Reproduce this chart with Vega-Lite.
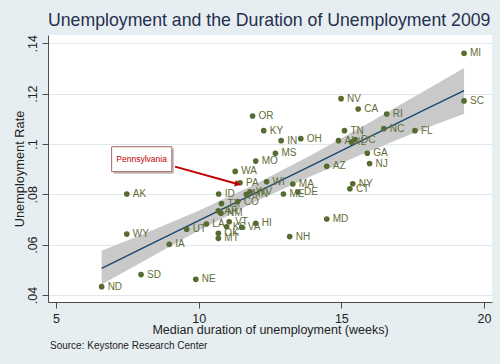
{
  "$schema": "https://vega.github.io/schema/vega-lite/v6.json",
  "width": 444,
  "height": 267,
  "autosize": "none",
  "padding": {"left": 48, "top": 35, "right": 8, "bottom": 62},
  "background": "#e7eef2",
  "title": {
    "text": "Unemployment and the Duration of Unemployment 2009",
    "anchor": "start",
    "frame": "group",
    "font": "Liberation Sans",
    "fontSize": 17.7,
    "fontWeight": "normal",
    "color": "#24304d",
    "offset": 5
  },
  "config": {
    "view": {"fill": "white", "stroke": null},
    "font": "Liberation Sans",
    "axisX": {
      "grid": false,
      "domainColor": "#4d4d4d",
      "tickColor": "#4d4d4d",
      "tickSize": 6,
      "labelPadding": 4.5,
      "labelFontSize": 12.5,
      "labelColor": "#222222",
      "titleFontSize": 12.5,
      "titleFontWeight": "normal",
      "titleColor": "#222222",
      "titlePadding": -2
    },
    "axisY": {
      "grid": true,
      "gridColor": "#dfe7ec",
      "domainColor": "#4d4d4d",
      "tickColor": "#4d4d4d",
      "tickSize": 6,
      "labelAngle": 270,
      "labelAlign": "center",
      "labelBaseline": "bottom",
      "labelPadding": 3,
      "labelFontSize": 12.5,
      "labelColor": "#222222",
      "titleFontSize": 12.8,
      "titleFontWeight": "normal",
      "titleColor": "#222222",
      "titlePadding": 0
    }
  },
  "datasets": {
    "states": [
      {"state": "MI", "dur": 19.30, "rate": 0.1360},
      {"state": "SC", "dur": 19.30, "rate": 0.1171},
      {"state": "NV", "dur": 14.99, "rate": 0.1180},
      {"state": "CA", "dur": 15.59, "rate": 0.1139},
      {"state": "RI", "dur": 16.59, "rate": 0.1119},
      {"state": "OR", "dur": 11.89, "rate": 0.1111},
      {"state": "KY", "dur": 12.28, "rate": 0.1053},
      {"state": "IN", "dur": 12.89, "rate": 0.1013},
      {"state": "OH", "dur": 13.58, "rate": 0.1021},
      {"state": "TN", "dur": 15.11, "rate": 0.1053},
      {"state": "AL", "dur": 14.90, "rate": 0.1013},
      {"state": "IL", "dur": 15.36, "rate": 0.1007},
      {"state": "DC", "dur": 15.48, "rate": 0.1017},
      {"state": "NC", "dur": 16.49, "rate": 0.1061},
      {"state": "FL", "dur": 17.58, "rate": 0.1053},
      {"state": "GA", "dur": 15.91, "rate": 0.0963},
      {"state": "NJ", "dur": 15.99, "rate": 0.0922},
      {"state": "MS", "dur": 12.69, "rate": 0.0963},
      {"state": "MO", "dur": 12.00, "rate": 0.0932},
      {"state": "WA", "dur": 11.28, "rate": 0.0891},
      {"state": "AZ", "dur": 14.49, "rate": 0.0911},
      {"state": "PA", "dur": 11.45, "rate": 0.0846},
      {"state": "WI", "dur": 12.38, "rate": 0.0850},
      {"state": "MA", "dur": 13.30, "rate": 0.0841},
      {"state": "DE", "dur": 13.48, "rate": 0.0809},
      {"state": "ME", "dur": 12.97, "rate": 0.0801},
      {"state": "NY", "dur": 15.40, "rate": 0.0842},
      {"state": "CT", "dur": 15.30, "rate": 0.0822},
      {"state": "ID", "dur": 10.70, "rate": 0.0801},
      {"state": "MN", "dur": 11.67, "rate": 0.0800},
      {"state": "WV", "dur": 11.80, "rate": 0.0810},
      {"state": "TX", "dur": 10.80, "rate": 0.0763},
      {"state": "CO", "dur": 11.37, "rate": 0.0771},
      {"state": "AR", "dur": 10.69, "rate": 0.0734},
      {"state": "NM", "dur": 10.78, "rate": 0.0725},
      {"state": "LA", "dur": 10.27, "rate": 0.0682},
      {"state": "UT", "dur": 9.58, "rate": 0.0661},
      {"state": "VT", "dur": 11.07, "rate": 0.0691},
      {"state": "KS", "dur": 10.98, "rate": 0.0671},
      {"state": "VA", "dur": 11.51, "rate": 0.0669},
      {"state": "HI", "dur": 12.00, "rate": 0.0685},
      {"state": "OK", "dur": 10.69, "rate": 0.0645},
      {"state": "MT", "dur": 10.69, "rate": 0.0625},
      {"state": "MD", "dur": 14.49, "rate": 0.0702},
      {"state": "NH", "dur": 13.19, "rate": 0.0632},
      {"state": "WY", "dur": 7.48, "rate": 0.0642},
      {"state": "AK", "dur": 7.48, "rate": 0.0801},
      {"state": "IA", "dur": 8.97, "rate": 0.0601},
      {"state": "SD", "dur": 7.98, "rate": 0.0481},
      {"state": "NE", "dur": 9.90, "rate": 0.0462},
      {"state": "ND", "dur": 6.60, "rate": 0.0433}
    ],
    "fit": [
      {"dur": 6.6, "fit": 0.0506, "lo": 0.0442, "hi": 0.0576},
      {"dur": 8.0, "fit": 0.0584, "lo": 0.0530, "hi": 0.0639},
      {"dur": 10.0, "fit": 0.0695, "lo": 0.0656, "hi": 0.0735},
      {"dur": 12.0, "fit": 0.0806, "lo": 0.0771, "hi": 0.0841},
      {"dur": 14.0, "fit": 0.0917, "lo": 0.0875, "hi": 0.0959},
      {"dur": 16.0, "fit": 0.1029, "lo": 0.0972, "hi": 0.1086},
      {"dur": 18.0, "fit": 0.1140, "lo": 0.1064, "hi": 0.1216},
      {"dur": 19.3, "fit": 0.1212, "lo": 0.1120, "hi": 0.1302}
    ],
    "note": [
      {"label": "Pennsylvania", "source": "Source: Keystone Research Center"}
    ]
  },
  "layer": [
    {
      "data": {"name": "fit"},
      "mark": {"type": "area", "color": "#c9c9c9", "opacity": 1},
      "encoding": {
        "x": {"field": "dur", "type": "quantitative", "scale": {"domain": [4.72, 20.28], "nice": false, "zero": false},
              "axis": {"values": [5, 10, 15, 20], "title": "Median duration of unemployment (weeks)"}},
        "y": {"field": "lo", "type": "quantitative", "scale": {"domain": [0.0372, 0.1433], "nice": false, "zero": false},
              "axis": {"values": [0.04, 0.06, 0.08, 0.1, 0.12, 0.14], "labelExpr": "replace(format(datum.value, '.2~f'), '0.', '.')", "title": "Unemployment Rate"}},
        "y2": {"field": "hi"}
      }
    },
    {
      "data": {"name": "fit"},
      "mark": {"type": "line", "color": "#1a476f", "strokeWidth": 1.4},
      "encoding": {
        "x": {"field": "dur", "type": "quantitative"},
        "y": {"field": "fit", "type": "quantitative"}
      }
    },
    {
      "data": {"name": "states"},
      "mark": {"type": "point", "shape": "circle", "filled": true, "size": 32, "color": "#556b2f", "opacity": 1},
      "encoding": {
        "x": {"field": "dur", "type": "quantitative"},
        "y": {"field": "rate", "type": "quantitative"}
      }
    },
    {
      "data": {"name": "states"},
      "mark": {"type": "text", "align": "left", "baseline": "middle", "dx": 6, "fontSize": 10, "color": "#5f6e38"},
      "encoding": {
        "x": {"field": "dur", "type": "quantitative"},
        "y": {"field": "rate", "type": "quantitative"},
        "text": {"field": "state"}
      }
    },
    {
      "data": {"name": "note"},
      "mark": {"type": "rect", "fill": "#bdbdbd"},
      "encoding": {
        "x": {"datum": 7.02, "type": "quantitative"}, "x2": {"datum": 9.13},
        "y": {"datum": 0.0981, "type": "quantitative"}, "y2": {"datum": 0.0882}
      }
    },
    {
      "data": {"name": "note"},
      "mark": {"type": "rect", "fill": "white", "stroke": "#b06060", "strokeWidth": 1},
      "encoding": {
        "x": {"datum": 6.95, "type": "quantitative"}, "x2": {"datum": 9.06},
        "y": {"datum": 0.0989, "type": "quantitative"}, "y2": {"datum": 0.0890}
      }
    },
    {
      "data": {"name": "note"},
      "mark": {"type": "text", "align": "center", "baseline": "middle", "fontSize": 8.5, "color": "#c00000"},
      "encoding": {
        "x": {"datum": 8.0, "type": "quantitative"},
        "y": {"datum": 0.0942, "type": "quantitative"},
        "text": {"field": "label"}
      }
    },
    {
      "data": {"name": "note"},
      "mark": {"type": "rule", "color": "#c00000", "strokeWidth": 2},
      "encoding": {
        "x": {"datum": 9.17, "type": "quantitative"}, "x2": {"datum": 11.33},
        "y": {"datum": 0.0910, "type": "quantitative"}, "y2": {"datum": 0.0842}
      }
    },
    {
      "data": {"name": "note"},
      "mark": {"type": "point", "shape": "triangle-right", "filled": true, "size": 45, "angle": 15, "color": "#c00000", "opacity": 1},
      "encoding": {
        "x": {"datum": 11.37, "type": "quantitative"},
        "y": {"datum": 0.0841, "type": "quantitative"}
      }
    },
    {
      "data": {"name": "note"},
      "mark": {"type": "text", "align": "left", "baseline": "alphabetic", "fontSize": 10, "color": "#222222"},
      "encoding": {
        "x": {"datum": 4.79, "type": "quantitative"},
        "y": {"datum": 0.0185, "type": "quantitative"},
        "text": {"field": "source"}
      }
    }
  ]
}
